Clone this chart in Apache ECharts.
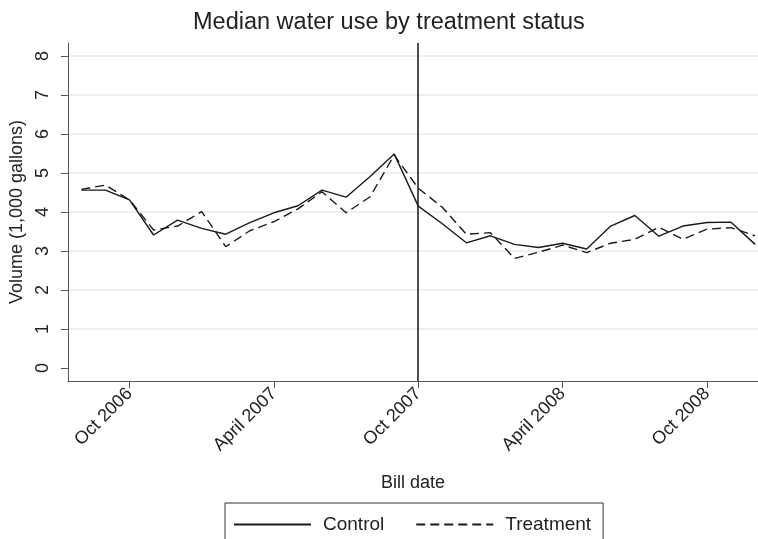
<!DOCTYPE html>
<html>
<head>
<meta charset="utf-8">
<script src="https://cdn.jsdelivr.net/npm/echarts@6/dist/echarts.min.js"></script>
<style>
  html, body { margin: 0; padding: 0; background: #fff; }
  #chart { width: 758px; height: 539px; }
</style>
</head>
<body>
<div id="chart"></div>
<script>
  // monthly bill dates, Aug 2006 .. Dec 2008
  const months = ['2006-08','2006-09','2006-10','2006-11','2006-12',
    '2007-01','2007-02','2007-03','2007-04','2007-05','2007-06','2007-07','2007-08','2007-09','2007-10','2007-11','2007-12',
    '2008-01','2008-02','2008-03','2008-04','2008-05','2008-06','2008-07','2008-08','2008-09','2008-10','2008-11','2008-12'];
  const control = [4.56, 4.56, 4.31, 3.41, 3.79,
    3.58, 3.43, 3.73, 3.98, 4.16, 4.56, 4.38, 4.91, 5.49, 4.15, 3.70, 3.21,
    3.39, 3.17, 3.09, 3.20, 3.05, 3.64, 3.91, 3.38, 3.64, 3.73, 3.74, 3.17];
  const treatment = [4.58, 4.69, 4.31, 3.54, 3.64,
    4.01, 3.11, 3.52, 3.75, 4.08, 4.52, 3.98, 4.39, 5.46, 4.61, 4.12, 3.43,
    3.47, 2.81, 2.97, 3.15, 2.96, 3.20, 3.30, 3.61, 3.30, 3.56, 3.60, 3.39];
  const tickMonths = ['2006-10', '2007-04', '2007-10', '2008-04', '2008-10'];
  const tickLabels = ['Oct 2006', 'April 2007', 'Oct 2007', 'April 2008', 'Oct 2008'];
  const yTicks = [0, 1, 2, 3, 4, 5, 6, 7, 8];
  const eventMonth = '2007-10';

  const font = 'Liberation Sans, Arial, sans-serif';
  const idx = m => months.indexOf(m);
  const pairs = vals => vals.map((v, i) => [i, v]);
  const xTickVals = tickMonths.map(idx);

  let chart = echarts.init(document.getElementById('chart'));
  let option = {
    animation: false,
    title: {
      text: 'Median water use by treatment status',
      left: 188,
      top: 6,
      textStyle: { fontFamily: font, fontSize: 23.5, fontWeight: 'normal', color: '#222' }
    },
    legend: {
      data: ['Control', 'Treatment'],
      left: 225,
      top: 503,
      itemWidth: 77,
      itemHeight: 14,
      itemGap: 31,
      padding: [12, 12, 12, 8],
      borderColor: '#333',
      borderWidth: 1,
      itemStyle: { opacity: 0 },
      textStyle: { fontFamily: font, fontSize: 19, color: '#222', padding: [0, 0, 0, 7] }
    },
    grid: { left: 67, right: 0, top: 43, bottom: 158, containLabel: false },
    xAxis: {
      type: 'value',
      min: -0.56,
      max: 28.12,
      name: 'Bill date',
      nameLocation: 'middle',
      nameGap: 93,
      nameTextStyle: { fontFamily: font, fontSize: 18, color: '#222' },
      axisLine: { onZero: false, lineStyle: { color: '#555', width: 1 } },
      axisTick: { customValues: xTickVals, length: 7, lineStyle: { color: '#555' } },
      axisLabel: {
        customValues: xTickVals,
        rotate: 45,
        margin: 10,
        fontFamily: font,
        fontSize: 18,
        color: '#222',
        formatter: v => tickLabels[xTickVals.indexOf(v)]
      },
      splitLine: { show: false }
    },
    yAxis: {
      type: 'value',
      min: -0.333,
      max: 8.333,
      name: 'Volume (1,000 gallons)',
      nameLocation: 'middle',
      nameGap: 30,
      nameTextStyle: { fontFamily: font, fontSize: 18, color: '#222' },
      axisLine: { show: true, onZero: false, lineStyle: { color: '#555', width: 1 } },
      axisTick: { show: true, customValues: yTicks, length: 7, lineStyle: { color: '#555' } },
      axisLabel: {
        customValues: yTicks,
        rotate: 90,
        margin: 16,
        fontFamily: font,
        fontSize: 18,
        color: '#222'
      },
      splitLine: {
        show: true,
        lineStyle: { color: ['rgba(0,0,0,0)', '#eaeaea', '#eaeaea', '#eaeaea', '#eaeaea', '#eaeaea', '#eaeaea', '#eaeaea', '#eaeaea'], width: 1.5 }
      }
    },
    series: [
      {
        name: 'Control',
        type: 'line',
        data: pairs(control),
        symbol: 'none',
        color: '#1a1a1a',
        lineStyle: { color: '#1a1a1a', width: 1.4, type: 'solid' },
        markLine: {
          silent: true,
          symbol: 'none',
          label: { show: false },
          lineStyle: { color: '#222', width: 1.6, type: 'solid' },
          data: [{ xAxis: idx(eventMonth) }]
        }
      },
      {
        name: 'Treatment',
        type: 'line',
        data: pairs(treatment),
        symbol: 'none',
        color: '#1a1a1a',
        lineStyle: { color: '#1a1a1a', width: 1.4, type: [9, 5] }
      }
    ]
  };
  chart.setOption(option);
</script>
</body>
</html>
